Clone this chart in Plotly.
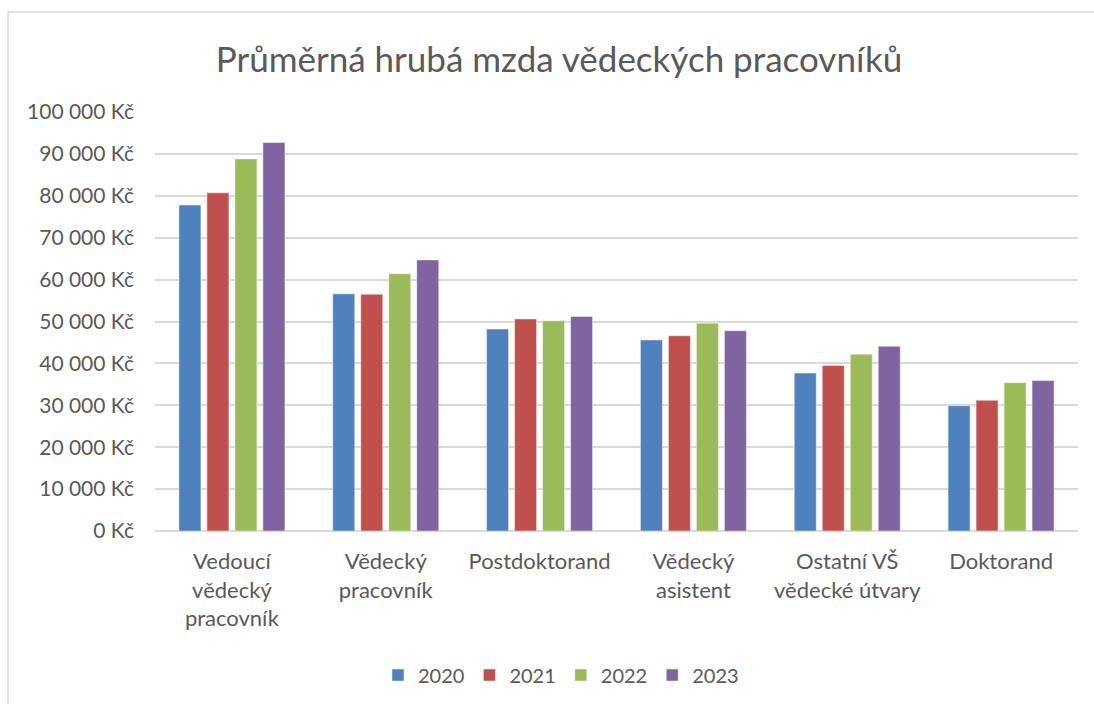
import plotly.graph_objects as go

# categories and values (Kč)
categories = ["Vedoucí<br>vědecký<br>pracovník", "Vědecký<br>pracovník", "Postdoktorand",
              "Vědecký<br>asistent", "Ostatní VŠ<br>vědecké útvary", "Doktorand"]
years = ["2020", "2021", "2022", "2023"]
v2020 = [77800, 56600, 48200, 45600, 37700, 29900]
v2021 = [80700, 56500, 50600, 46600, 39500, 31200]
v2022 = [88800, 61400, 50200, 49600, 42200, 35400]
v2023 = [92700, 64700, 51200, 47800, 44100, 35900]
tick_vals = [0, 10000, 20000, 30000, 40000, 50000, 60000, 70000, 80000, 90000, 100000]
tick_text = ["0 Kč", "10 000 Kč", "20 000 Kč", "30 000 Kč", "40 000 Kč", "50 000 Kč",
             "60 000 Kč", "70 000 Kč", "80 000 Kč", "90 000 Kč", "100 000 Kč"]

colors = ["#4F81BD", "#C0504D", "#9BBB59", "#8064A2"]
series = [v2020, v2021, v2022, v2023]

FONT = "Lato"
GREY = "#595959"

fig = go.Figure()
for name, vals, col in zip(years, series, colors):
    fig.add_trace(go.Bar(x=categories, y=vals, name=name,
                         marker=dict(color=col, line=dict(color="rgba(255,255,255,0.45)", width=1))))

fig.update_layout(
    width=1094, height=704,
    paper_bgcolor="white", plot_bgcolor="white",
    margin=dict(l=155, r=16, t=112, b=173),
    barmode="group", bargap=0.272, bargroupgap=0.214,
    font=dict(family=FONT, color=GREY, size=21),
    title=dict(text="Průměrná hrubá mzda vědeckých pracovníků",
               x=559/1094, xanchor="center", y=1-60/704, yanchor="middle",
               font=dict(family=FONT, size=35, color=GREY)),
    legend=dict(orientation="h", xref="container", yref="container",
                x=561/1094, xanchor="center", y=1-675/704, yanchor="middle",
                font=dict(size=20, color=GREY), itemwidth=30, traceorder="normal"),
    showlegend=True,
)
fig.update_yaxes(range=[0, 100000], tickvals=tick_vals, ticktext=tick_text,
                 showgrid=True, gridcolor="#D9D9D9", gridwidth=1.5,
                 zeroline=True, zerolinecolor="#D9D9D9", zerolinewidth=1.5,
                 showline=False, ticks="", ticklabelstandoff=20, automargin=False,
                 tickfont=dict(size=21, color=GREY))
fig.update_xaxes(showline=False, ticks="", tickfont=dict(size=22, color=GREY),
                 ticklabelstandoff=15, automargin=False)

# outer chart border
fig.add_shape(type="rect", xref="paper", yref="paper",
              x0=(8-155)/923, x1=(1110-155)/923, y0=(531-720)/419, y1=(531-12)/419,
              line=dict(color="#D9D9D9", width=1.5), layer="below")

# drop the browser's default body margin so the figure sits at (0, 0)
fig.write_html("out.html", config={"displayModeBar": False},
               post_script="document.body.style.margin='0';")
